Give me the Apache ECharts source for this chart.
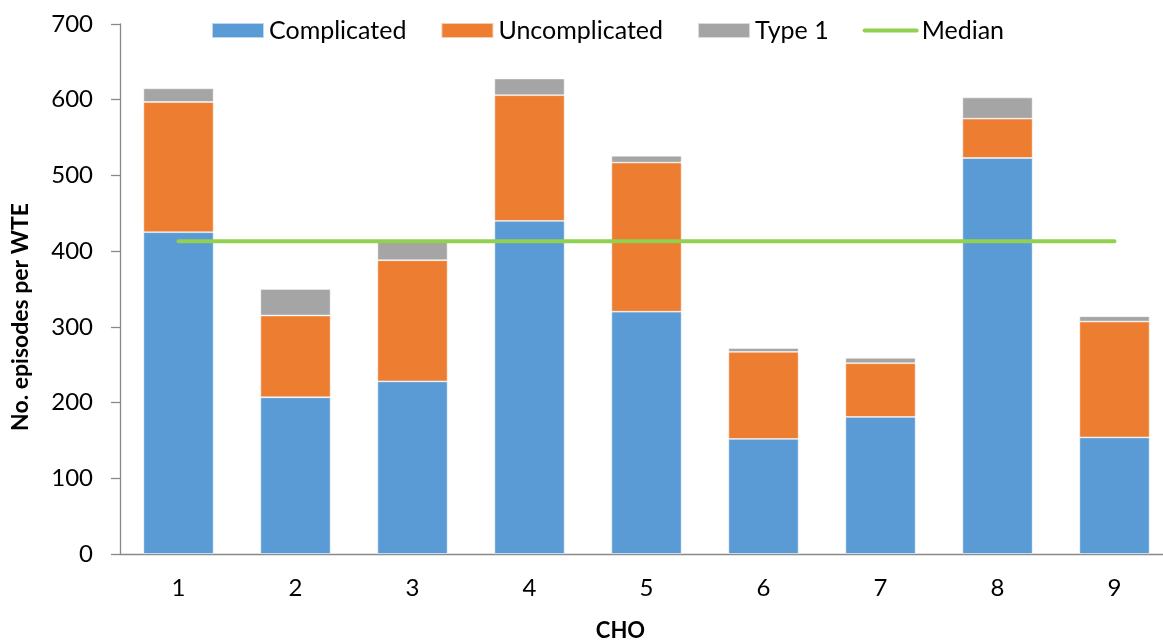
<!DOCTYPE html>
<html>
<head>
<meta charset="utf-8">
<script src="https://cdn.jsdelivr.net/npm/echarts@6/dist/echarts.min.js"></script>
<style>
html,body{margin:0;padding:0;background:#fff;}
#chart{width:1163px;height:643px;}
</style>
</head>
<body>
<div id="chart"></div>
<script>
var categories = ['1','2','3','4','5','6','7','8','9'];
var complicated = [425, 207, 228, 440, 320, 152, 181, 523, 154];
var uncomplicated = [172, 108, 160, 166, 197, 115, 71, 52, 153];
var type1 = [18, 35, 24, 22, 9, 5, 7, 28, 7];
var median = [413, 413, 413, 413, 413, 413, 413, 413, 413];
var yTicks = [0, 100, 200, 300, 400, 500, 600, 700];

var FONT = 'Lato';
var chart = echarts.init(document.getElementById('chart'));
var barStyle = function (c) {
  return { color: c, borderColor: 'rgba(255,255,255,0.6)', borderWidth: 0.8 };
};
chart.setOption({
  animation: false,
  textStyle: { fontFamily: FONT },
  grid: { left: 120, right: -10, top: 24, bottom: 89, containLabel: false, outerBoundsMode: 'none' },
  legend: {
    left: 206, top: 13,
    itemWidth: 52, itemHeight: 15, itemGap: 34,
    textStyle: { fontFamily: FONT, fontSize: 25, color: '#000' },
    data: [
      { name: 'Complicated', icon: 'rect' },
      { name: 'Uncomplicated', icon: 'rect' },
      { name: 'Type 1', icon: 'rect' },
      { name: 'Median', itemStyle: { opacity: 0 }, lineStyle: { width: 4, color: '#92D050', cap: 'round' } }
    ]
  },
  xAxis: {
    type: 'category',
    data: categories,
    name: 'CHO',
    nameLocation: 'middle',
    nameGap: 66,
    nameTextStyle: { fontFamily: FONT, fontWeight: 'bold', fontSize: 22, color: '#000', padding: [0, 52, 0, 0] },
    axisLine: { lineStyle: { color: '#898989', width: 1.3 } },
    axisTick: { show: false },
    axisLabel: { fontSize: 24, color: '#000', margin: 22, fontFamily: FONT }
  },
  yAxis: {
    type: 'value',
    min: yTicks[0], max: yTicks[yTicks.length - 1], interval: 100,
    name: 'No. episodes per WTE',
    nameLocation: 'middle',
    nameGap: 88,
    nameTextStyle: { fontFamily: FONT, fontWeight: 'bold', fontSize: 23, color: '#000', padding: [0, 56, 0, 0] },
    axisLine: { show: true, lineStyle: { color: '#898989', width: 1.3 } },
    axisTick: { show: true, length: 9, inside: false, lineStyle: { color: '#898989', width: 1.3 } },
    splitLine: { show: false },
    axisLabel: { fontSize: 24, color: '#000', margin: 27, fontFamily: FONT }
  },
  series: [
    { name: 'Complicated', type: 'bar', stack: 't', barWidth: '60%', data: complicated, itemStyle: barStyle('#5B9BD5') },
    { name: 'Uncomplicated', type: 'bar', stack: 't', data: uncomplicated, itemStyle: barStyle('#ED7D31') },
    { name: 'Type 1', type: 'bar', stack: 't', data: type1, itemStyle: barStyle('#A5A5A5') },
    { name: 'Median', type: 'line', data: median, symbol: 'none', z: 5,
      lineStyle: { color: '#92D050', width: 4, cap: 'round' }, itemStyle: { color: '#92D050' } }
  ]
});
</script>
</body>
</html>
